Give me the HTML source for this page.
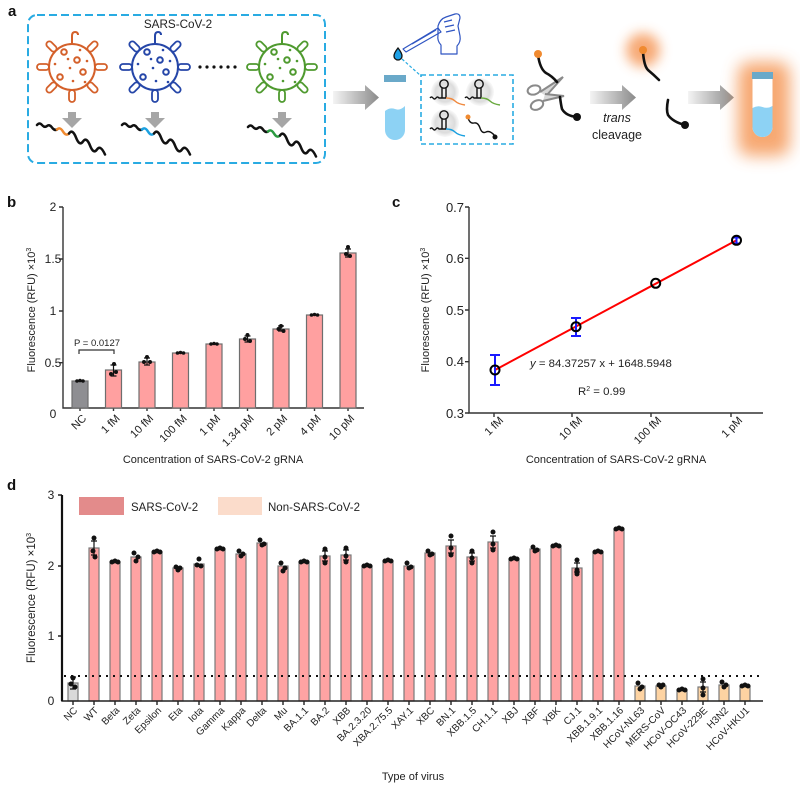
<!DOCTYPE html>
<html>
<head>
<meta charset="utf-8">
<style>
body{margin:0;background:#fff;}
svg{display:block;}
text{font-family:"Liberation Sans",Arial,sans-serif;fill:#222;}
</style>
</head>
<body>
<svg width="800" height="792" viewBox="0 0 800 792" xmlns="http://www.w3.org/2000/svg">
<defs>
  <linearGradient id="ag" x1="0" y1="0" x2="1" y2="0">
    <stop offset="0" stop-color="#f4f4f4"/>
    <stop offset="1" stop-color="#8a8a8a"/>
  </linearGradient>
  <radialGradient id="cg" cx="0.5" cy="0.5" r="0.5">
    <stop offset="0" stop-color="#f2f2f2"/>
    <stop offset="0.7" stop-color="#dcdcdc"/>
    <stop offset="1" stop-color="#e9e9e9" stop-opacity="0.3"/>
  </radialGradient>
  <filter id="blur8" x="-50%" y="-50%" width="200%" height="200%"><feGaussianBlur stdDeviation="8"/></filter>
  <filter id="blur6" x="-80%" y="-80%" width="260%" height="260%"><feGaussianBlur stdDeviation="6"/></filter>
  <g id="vir" fill="none" stroke="currentColor" stroke-width="2">
    <circle r="23"/>
    <g stroke-width="1.8">
      <rect x="-3" y="23" width="6" height="12" rx="3"/>
      <rect x="-3" y="23" width="6" height="12" rx="3" transform="rotate(45)"/>
      <rect x="-3" y="23" width="6" height="12" rx="3" transform="rotate(90)"/>
      <rect x="-3" y="23" width="6" height="12" rx="3" transform="rotate(135)"/>
      <rect x="-3" y="23" width="6" height="12" rx="3" transform="rotate(225)"/>
      <rect x="-3" y="23" width="6" height="12" rx="3" transform="rotate(270)"/>
      <rect x="-3" y="23" width="6" height="12" rx="3" transform="rotate(315)"/>
    </g>
    <path d="M0,-23 V-31 q0,-4 3,-4 q3,0 3,3"/>
    <circle cx="-8" cy="-15" r="2.8"/>
    <circle cx="5" cy="-7" r="2.8"/>
    <circle cx="11" cy="5" r="2.8"/>
    <circle cx="-12" cy="10" r="2.8"/>
    <g fill="currentColor" stroke="none">
      <circle cx="8" cy="-17" r="1.3"/>
      <circle cx="-4" cy="-8" r="1.3"/>
      <circle cx="-17" cy="-3" r="1.3"/>
      <circle cx="-2" cy="1" r="1.3"/>
      <circle cx="1" cy="14" r="1.3"/>
      <circle cx="15" cy="-6" r="1.3"/>
      <circle cx="13" cy="15" r="1.3"/>
    </g>
  </g>
</defs>

<!-- ================= PANEL A ================= -->
<text x="8" y="16" font-size="15" font-weight="bold" style="fill:#111">a</text>
<rect x="28" y="15" width="297" height="148" rx="9" fill="none" stroke="#29abe2" stroke-width="2" stroke-dasharray="8 4"/>
<text x="178" y="28" font-size="11.7" text-anchor="middle">SARS-CoV-2</text>

<use href="#vir" x="72" y="67" style="color:#d4602a"/>
<use href="#vir" x="155" y="67" style="color:#2546a8"/>
<use href="#vir" x="282" y="67" style="color:#4f9a2f"/>

<g fill="#111">
  <circle cx="200" cy="67" r="1.6"/><circle cx="207" cy="67" r="1.6"/><circle cx="214" cy="67" r="1.6"/>
  <circle cx="221" cy="67" r="1.6"/><circle cx="228" cy="67" r="1.6"/><circle cx="235" cy="67" r="1.6"/>
</g>

<g fill="#a6a6a6">
  <polygon points="68,112 76,112 76,118 82,118 72,128 62,118 68,118"/>
  <polygon points="151,112 159,112 159,118 165,118 155,128 145,118 151,118"/>
  <polygon points="278,112 286,112 286,118 292,118 282,128 272,118 278,118"/>
</g>

<g fill="none" stroke-width="2.5" stroke-linecap="round">
  <g>
    <path d="M37,125 q2.5,-3 5,0 t5,1 t5,1.5 t5,2" stroke="#111"/>
    <path d="M57,129.5 q3,-3 6,2 t6,2" stroke="#f08a30"/>
    <path d="M69,133.5 q3.5,-5 7,4 t7,4 t7,4 t7,4 t8,5" stroke="#111"/>
  </g>
  <g transform="translate(85,0)">
    <path d="M37,125 q2.5,-3 5,0 t5,1 t5,1.5 t5,2" stroke="#111"/>
    <path d="M57,129.5 q3,-3 6,2 t6,2" stroke="#1aa0e0"/>
    <path d="M69,133.5 q3.5,-5 7,4 t7,4 t7,4 t7,4 t8,5" stroke="#111"/>
  </g>
  <g transform="translate(211,2)">
    <path d="M37,125 q2.5,-3 5,0 t5,1 t5,1.5 t5,2" stroke="#111"/>
    <path d="M57,129.5 q3,-3 6,2 t6,2" stroke="#2a9a40"/>
    <path d="M69,133.5 q3.5,-5 7,4 t7,4 t7,4 t7,4 t8,5" stroke="#111"/>
  </g>
</g>

<!-- arrows -->
<polygon points="333,91 365,91 365,85 379,97.5 365,110 365,104 333,104" fill="url(#ag)"/>
<polygon points="590,91 622,91 622,85 636,97.5 622,110 622,104 590,104" fill="url(#ag)"/>
<polygon points="688,91 720,91 720,85 734,97.5 720,110 720,104 688,104" fill="url(#ag)"/>

<!-- tube 1 -->
<rect x="384" y="75" width="22" height="7" fill="#6aa9c9"/>
<path d="M385,111 q5,-4 10,-2 t10,-3 V130 a10,10 0 0 1 -20,0 Z" fill="#8dd2f4"/>

<!-- pipette and hand -->
<g fill="none" stroke="#2f55c2" stroke-width="1.2" stroke-linejoin="round">
  <path d="M403,49 L438,28 L441,32 L406,52 Z"/>
  <path d="M412,44 L436,30"/>
  <path d="M438,26 q2,-7 8,-9 l9,-3 q5,-1 5,4 l-2,8 l2,10 q1,6 -3,10 l0,8 l-16,0 l0,-9 q-4,-4 -3,-10 z"/>
  <path d="M444,22 l8,-2 M445,27 l9,-2 M446,32 l9,-2"/>
</g>
<path d="M398,48 q-4,5 -4,8 a4,4 0 0 0 8,0 q0,-3 -4,-8 z" fill="#1ea0e6" stroke="#111" stroke-width="1.3"/>
<path d="M402,59 L421,76" stroke="#29abe2" stroke-width="1.2" stroke-dasharray="3 2"/>

<!-- dashed box 2 -->
<rect x="421" y="75" width="92" height="69" fill="none" stroke="#29abe2" stroke-width="1.6" stroke-dasharray="5 3"/>
<circle cx="445" cy="92" r="14" fill="url(#cg)"/>
<circle cx="480" cy="92" r="14" fill="url(#cg)"/>
<circle cx="445" cy="123" r="14" fill="url(#cg)"/>
<g fill="none" stroke-width="1.4">
  <g>
    <circle cx="444" cy="84" r="4.2" stroke="#111"/>
    <path d="M442,88 V98 M446,88 V98" stroke="#111"/>
    <path d="M430,98 q1.5,-2 3,0 t3,0 t3,0 H446" stroke="#111"/>
    <path d="M446,98 q6,0 9,3 t10,4" stroke="#f08a40"/>
  </g>
  <g transform="translate(35,0)">
    <circle cx="444" cy="84" r="4.2" stroke="#111"/>
    <path d="M442,88 V98 M446,88 V98" stroke="#111"/>
    <path d="M430,98 q1.5,-2 3,0 t3,0 t3,0 H446" stroke="#111"/>
    <path d="M446,98 q6,0 9,3 t10,4" stroke="#6aaa40"/>
  </g>
  <g transform="translate(0,31)">
    <circle cx="444" cy="84" r="4.2" stroke="#111"/>
    <path d="M442,88 V98 M446,88 V98" stroke="#111"/>
    <path d="M430,98 q1.5,-2 3,0 t3,0 t3,0 H446" stroke="#111"/>
    <path d="M446,98 q6,0 9,3 t10,4" stroke="#1aa0e0"/>
  </g>
  <path d="M468,118 q2,6 6,5 t6,5 t6,4 t9,4" stroke="#111"/>
</g>
<circle cx="468" cy="117" r="2.5" fill="#f08a30"/>
<circle cx="495" cy="137" r="2.5" fill="#111"/>

<!-- scissors -->
<g fill="none" stroke="#8a8a8a" stroke-width="2">
  <ellipse cx="534" cy="90" rx="6.5" ry="4.5" transform="rotate(-15 534 90)"/>
  <ellipse cx="537" cy="105" rx="6.5" ry="4.5" transform="rotate(-25 537 105)"/>
  <path d="M540,92 L563,77 L546,96" fill="#d8d8d8"/>
  <path d="M543,101 L564,96 L545,94" fill="#d8d8d8"/>
</g>

<!-- reporter -->
<g fill="none" stroke="#111" stroke-width="2.6" stroke-linecap="round">
  <path d="M538,55 q2,14 8,18 q6,3 11,9"/>
  <path d="M560,97 q1,8 2,12 q4,7 15,8"/>
</g>
<circle cx="538" cy="54" r="4" fill="#f08a30"/>
<circle cx="577" cy="117" r="4" fill="#111"/>

<text x="617" y="122" font-size="12.5" text-anchor="middle" font-style="italic">trans</text>
<text x="617" y="139" font-size="12.5" text-anchor="middle">cleavage</text>

<!-- cleaved -->
<circle cx="643" cy="50" r="17" fill="#f6a066" filter="url(#blur6)" opacity="0.9"/>
<g fill="none" stroke="#111" stroke-width="2.6" stroke-linecap="round">
  <path d="M643,52 q1,14 5,18 q6,5 11,10"/>
  <path d="M668,100 q-2,10 0,15 q5,7 17,10"/>
</g>
<circle cx="643" cy="50" r="4" fill="#f08a30"/>
<circle cx="685" cy="125" r="4" fill="#111"/>

<!-- glowing tube -->
<rect x="738" y="62" width="52" height="94" rx="12" fill="#f59a5a" filter="url(#blur8)" opacity="0.85"/>
<rect x="752" y="72" width="21" height="7" fill="#6aa9c9"/>
<path d="M752.5,79 V127 a10,10 0 0 0 20,0 V79 Z" fill="#fff"/>
<path d="M752.5,108 q5,-3 10,-1 t10,-1 V127 a10,10 0 0 1 -20,0 Z" fill="#8dd2f4"/>

<!-- ================= PANEL B ================= -->
<text x="7" y="207" font-size="15" font-weight="bold" style="fill:#111">b</text>
<g stroke="#333" stroke-width="1.4" fill="none">
  <path d="M63,207 V408 H364"/>
  <path d="M59,207 H63 M59,259 H63 M59,311 H63 M59,362.7 H63"/>
  <path d="M80,408 v3 M113.5,408 v3 M147,408 v3 M180.5,408 v3 M214,408 v3 M247.5,408 v3 M281,408 v3 M314.5,408 v3 M348,408 v3"/>
</g>
<g font-size="12" text-anchor="middle">
  <text x="53" y="211">2</text>
  <text x="53" y="263">1.5</text>
  <text x="53" y="315">1</text>
  <text x="53" y="367">0.5</text>
  <text x="53" y="418">0</text>
</g>
<g stroke="#6e6e6e" stroke-width="1.2">
  <rect x="72" y="381" width="16" height="27" fill="#8e8e92"/>
  <rect x="105.5" y="370" width="16" height="38" fill="#ffa0a0"/>
  <rect x="139" y="362" width="16" height="46" fill="#ffa0a0"/>
  <rect x="172.5" y="353" width="16" height="55" fill="#ffa0a0"/>
  <rect x="206" y="344" width="16" height="64" fill="#ffa0a0"/>
  <rect x="239.5" y="339" width="16" height="69" fill="#ffa0a0"/>
  <rect x="273" y="329" width="16" height="79" fill="#ffa0a0"/>
  <rect x="306.5" y="315" width="16" height="93" fill="#ffa0a0"/>
  <rect x="340" y="253" width="16" height="155" fill="#ffa0a0"/>
</g>
<g stroke="#111" stroke-width="1.2" fill="none">
  <path d="M113.5,365 V376 M110.5,365 h6 M110.5,376 h6"/>
  <path d="M147,358 V365 M144,358 h6 M144,365 h6"/>
  <path d="M247.5,336 V342 M244.5,336 h6 M244.5,342 h6"/>
  <path d="M281,326 V331 M278,326 h6 M278,331 h6"/>
  <path d="M348,249 V257 M345,249 h6 M345,257 h6"/>
</g>
<g fill="#111">
  <circle cx="77" cy="381" r="1.8"/><circle cx="80" cy="380.5" r="1.8"/><circle cx="83" cy="381" r="1.8"/>
  <circle cx="114" cy="364" r="2"/><circle cx="111" cy="374" r="2"/><circle cx="116" cy="372" r="2"/>
  <circle cx="147" cy="357" r="2"/><circle cx="144" cy="362" r="2"/><circle cx="150" cy="362" r="2"/>
  <circle cx="177.5" cy="353" r="1.8"/><circle cx="180.5" cy="352.5" r="1.8"/><circle cx="183.5" cy="353" r="1.8"/>
  <circle cx="211" cy="344" r="1.8"/><circle cx="214" cy="343.5" r="1.8"/><circle cx="217" cy="344" r="1.8"/>
  <circle cx="247.5" cy="335" r="2"/><circle cx="245" cy="339" r="2"/><circle cx="250" cy="341" r="2"/>
  <circle cx="281" cy="326" r="2"/><circle cx="278.5" cy="329" r="2"/><circle cx="283.5" cy="331" r="2"/>
  <circle cx="311.5" cy="315" r="1.8"/><circle cx="314.5" cy="314.5" r="1.8"/><circle cx="317.5" cy="315" r="1.8"/>
  <circle cx="348" cy="247" r="2"/><circle cx="346" cy="254" r="2"/><circle cx="350" cy="256" r="2"/>
</g>
<path d="M79,354 V350 H114 V354" fill="none" stroke="#333" stroke-width="1.2"/>
<text x="97" y="346" font-size="9.5" text-anchor="middle">P = 0.0127</text>
<g font-size="11" text-anchor="end">
  <text transform="translate(87,419) rotate(-45)">NC</text>
  <text transform="translate(120.5,419) rotate(-45)">1 fM</text>
  <text transform="translate(154,419) rotate(-45)">10 fM</text>
  <text transform="translate(187.5,419) rotate(-45)">100 fM</text>
  <text transform="translate(221,419) rotate(-45)">1 pM</text>
  <text transform="translate(254.5,419) rotate(-45)">1.34 pM</text>
  <text transform="translate(288,419) rotate(-45)">2 pM</text>
  <text transform="translate(321.5,419) rotate(-45)">4 pM</text>
  <text transform="translate(355,419) rotate(-45)">10 pM</text>
</g>
<text transform="translate(35,310) rotate(-90)" font-size="11" text-anchor="middle">Fluorescence (RFU) ×10<tspan font-size="7" dy="-4">3</tspan></text>
<text x="213" y="463" font-size="11" text-anchor="middle">Concentration of SARS-CoV-2 gRNA</text>

<!-- ================= PANEL C ================= -->
<text x="392" y="207" font-size="15" font-weight="bold" style="fill:#111">c</text>
<g stroke="#333" stroke-width="1.4" fill="none">
  <path d="M469,207 V413 H763"/>
  <path d="M465,207 H469 M465,258.3 H469 M465,310 H469 M465,361.7 H469 M465,413 H469"/>
  <path d="M494,413 v4 M572,413 v4 M651,413 v4 M731,413 v4"/>
</g>
<g font-size="13" text-anchor="middle">
  <text x="455" y="212">0.7</text>
  <text x="455" y="263">0.6</text>
  <text x="455" y="315">0.5</text>
  <text x="455" y="366">0.4</text>
  <text x="455" y="418">0.3</text>
</g>
<line x1="495" y1="370" x2="736.5" y2="240.3" stroke="#ff0000" stroke-width="2"/>
<g stroke="#1a1aff" stroke-width="2" fill="none">
  <path d="M495,355 V385 M490,355 h10 M490,385 h10"/>
  <path d="M576,318 V336 M571,318 h10 M571,336 h10"/>
  <path d="M736.5,237.5 V243.5 M732.5,237.5 h8 M732.5,243.5 h8"/>
</g>
<g stroke="#000" stroke-width="2" fill="none">
  <circle cx="495" cy="370" r="4.5"/>
  <circle cx="576" cy="326.7" r="4.5"/>
  <circle cx="655.7" cy="283.3" r="4.5"/>
  <circle cx="736.5" cy="240.3" r="4.5"/>
</g>
<text x="530" y="367" font-size="11.4"><tspan font-style="italic">y</tspan> = 84.37257 x + 1648.5948</text>
<text x="578" y="395" font-size="11.4">R<tspan font-size="7" dy="-4">2</tspan><tspan dy="4"> = 0.99</tspan></text>
<g font-size="11" text-anchor="end">
  <text transform="translate(504,421) rotate(-45)">1 fM</text>
  <text transform="translate(583,421) rotate(-45)">10 fM</text>
  <text transform="translate(662,421) rotate(-45)">100 fM</text>
  <text transform="translate(743,421) rotate(-45)">1 pM</text>
</g>
<text transform="translate(429,310) rotate(-90)" font-size="11" text-anchor="middle">Fluorescence (RFU) ×10<tspan font-size="7" dy="-4">3</tspan></text>
<text x="616" y="463" font-size="11" text-anchor="middle">Concentration of SARS-CoV-2 gRNA</text>

<!-- ================= PANEL D ================= -->
<text x="7" y="490" font-size="15" font-weight="bold" style="fill:#111">d</text>
<rect x="79" y="497" width="45" height="18" fill="#e38b8b"/>
<text x="131" y="511" font-size="11.5">SARS-CoV-2</text>
<rect x="218" y="497" width="44" height="18" fill="#fbdccb"/>
<text x="268" y="511" font-size="11.5">Non-SARS-CoV-2</text>

<g font-size="12" text-anchor="middle">
  <text x="51" y="499">3</text>
  <text x="51" y="570">2</text>
  <text x="51" y="640">1</text>
  <text x="51" y="705">0</text>
</g>

<g stroke="#7a7a7a" stroke-width="1.2">
  <rect x="68" y="683" width="10" height="18" fill="#d9d9d9"/>
  <g fill="#ffa3a3">
    <rect x="89" y="548" width="10" height="153"/>
    <rect x="110" y="562" width="10" height="139"/>
    <rect x="131" y="557" width="10" height="144"/>
    <rect x="152" y="552" width="10" height="149"/>
    <rect x="173" y="568" width="10" height="133"/>
    <rect x="194" y="564" width="10" height="137"/>
    <rect x="215" y="549" width="10" height="152"/>
    <rect x="236" y="554" width="10" height="147"/>
    <rect x="257" y="543" width="10" height="158"/>
    <rect x="278" y="566" width="10" height="135"/>
    <rect x="299" y="562" width="10" height="139"/>
    <rect x="320" y="556" width="10" height="145"/>
    <rect x="341" y="555" width="10" height="146"/>
    <rect x="362" y="566" width="10" height="135"/>
    <rect x="383" y="561" width="10" height="140"/>
    <rect x="404" y="566" width="10" height="135"/>
    <rect x="425" y="553" width="10" height="148"/>
    <rect x="446" y="546" width="10" height="155"/>
    <rect x="467" y="557" width="10" height="144"/>
    <rect x="488" y="542" width="10" height="159"/>
    <rect x="509" y="559" width="10" height="142"/>
    <rect x="530" y="549" width="10" height="152"/>
    <rect x="551" y="546" width="10" height="155"/>
    <rect x="572" y="568" width="10" height="133"/>
    <rect x="593" y="552" width="10" height="149"/>
    <rect x="614" y="529" width="10" height="172"/>
  </g>
  <g fill="#fdd3a2">
    <rect x="635" y="686" width="10" height="15"/>
    <rect x="656" y="686" width="10" height="15"/>
    <rect x="677" y="690" width="10" height="11"/>
    <rect x="698" y="687" width="10" height="14"/>
    <rect x="719" y="685" width="10" height="16"/>
    <rect x="740" y="686" width="10" height="15"/>
  </g>
</g>

<line x1="64" y1="676" x2="759" y2="676" stroke="#111" stroke-width="2" stroke-dasharray="2 5"/>

<g stroke="#222" stroke-width="1.4" fill="none">
  <path d="M62,495 V701 H763"/>
  <path d="M58,495 H62 M58,566 H62 M58,636 H62"/>
  <path d="M73,701v4M94,701v4M115,701v4M136,701v4M157,701v4M178,701v4M199,701v4M220,701v4M241,701v4M262,701v4M283,701v4M304,701v4M325,701v4M346,701v4M367,701v4M388,701v4M409,701v4M430,701v4M451,701v4M472,701v4M493,701v4M514,701v4M535,701v4M556,701v4M577,701v4M598,701v4M619,701v4M640,701v4M661,701v4M682,701v4M703,701v4M724,701v4M745,701v4"/>
</g>
<path d="M62,495 V701" stroke="#111" stroke-width="2.2"/>

<g stroke="#111" stroke-width="1.2" fill="none">
  <path d="M73,677 V689 M70,677 h6 M70,689 h6"/>
  <path d="M94,541 V555 M91,541 h6 M91,555 h6"/>
  <path d="M325,551 V561 M322,551 h6 M322,561 h6"/>
  <path d="M346,550 V560 M343,550 h6 M343,560 h6"/>
  <path d="M451,540 V553 M448,540 h6 M448,553 h6"/>
  <path d="M472,553 V561 M469,553 h6 M469,561 h6"/>
  <path d="M493,536 V548 M490,536 h6 M490,548 h6"/>
  <path d="M577,563 V572 M574,563 h6 M574,572 h6"/>
  <path d="M703,682 V692 M700,682 h6 M700,692 h6"/>
</g>
<g fill="#111">
  <circle cx="73" cy="678" r="2.5"/><circle cx="71" cy="684" r="2.5"/><circle cx="75" cy="687" r="2.5"/>
  <circle cx="94" cy="538" r="2.5"/><circle cx="93" cy="551" r="2.5"/><circle cx="95" cy="557" r="2.5"/>
  <circle cx="112" cy="562" r="2.5"/><circle cx="115" cy="561" r="2.5"/><circle cx="118" cy="562" r="2.5"/>
  <circle cx="134" cy="553" r="2.5"/><circle cx="138" cy="557" r="2.5"/><circle cx="136" cy="561" r="2.5"/>
  <circle cx="154" cy="552" r="2.5"/><circle cx="157" cy="551" r="2.5"/><circle cx="160" cy="552" r="2.5"/>
  <circle cx="176" cy="567" r="2.5"/><circle cx="180" cy="568" r="2.5"/><circle cx="178" cy="570" r="2.5"/>
  <circle cx="199" cy="559" r="2.5"/><circle cx="197" cy="565" r="2.5"/><circle cx="201" cy="566" r="2.5"/>
  <circle cx="217" cy="549" r="2.5"/><circle cx="220" cy="548" r="2.5"/><circle cx="223" cy="549" r="2.5"/>
  <circle cx="239" cy="551" r="2.5"/><circle cx="243" cy="554" r="2.5"/><circle cx="241" cy="556" r="2.5"/>
  <circle cx="260" cy="540" r="2.5"/><circle cx="264" cy="544" r="2.5"/><circle cx="262" cy="545" r="2.5"/>
  <circle cx="281" cy="563" r="2.5"/><circle cx="285" cy="568" r="2.5"/><circle cx="283" cy="571" r="2.5"/>
  <circle cx="301" cy="562" r="2.5"/><circle cx="304" cy="561" r="2.5"/><circle cx="307" cy="562" r="2.5"/>
  <circle cx="325" cy="549" r="2.5"/><circle cx="325" cy="557" r="2.5"/><circle cx="325" cy="563" r="2.5"/>
  <circle cx="346" cy="548" r="2.5"/><circle cx="346" cy="556" r="2.5"/><circle cx="346" cy="562" r="2.5"/>
  <circle cx="364" cy="566" r="2.5"/><circle cx="367" cy="565" r="2.5"/><circle cx="370" cy="566" r="2.5"/>
  <circle cx="385" cy="561" r="2.5"/><circle cx="388" cy="560" r="2.5"/><circle cx="391" cy="561" r="2.5"/>
  <circle cx="407" cy="563" r="2.5"/><circle cx="411" cy="567" r="2.5"/><circle cx="409" cy="568" r="2.5"/>
  <circle cx="428" cy="551" r="2.5"/><circle cx="432" cy="554" r="2.5"/><circle cx="430" cy="555" r="2.5"/>
  <circle cx="451" cy="536" r="2.5"/><circle cx="451" cy="548" r="2.5"/><circle cx="451" cy="555" r="2.5"/>
  <circle cx="472" cy="551" r="2.5"/><circle cx="472" cy="558" r="2.5"/><circle cx="472" cy="563" r="2.5"/>
  <circle cx="493" cy="532" r="2.5"/><circle cx="493" cy="544" r="2.5"/><circle cx="493" cy="550" r="2.5"/>
  <circle cx="511" cy="559" r="2.5"/><circle cx="514" cy="558" r="2.5"/><circle cx="517" cy="559" r="2.5"/>
  <circle cx="533" cy="547" r="2.5"/><circle cx="537" cy="550" r="2.5"/><circle cx="535" cy="551" r="2.5"/>
  <circle cx="553" cy="546" r="2.5"/><circle cx="556" cy="545" r="2.5"/><circle cx="559" cy="546" r="2.5"/>
  <circle cx="577" cy="560" r="2.5"/><circle cx="577" cy="570" r="2.5"/><circle cx="577" cy="574" r="2.5"/>
  <circle cx="595" cy="552" r="2.5"/><circle cx="598" cy="551" r="2.5"/><circle cx="601" cy="552" r="2.5"/>
  <circle cx="616" cy="529" r="2.5"/><circle cx="619" cy="528" r="2.5"/><circle cx="622" cy="529" r="2.5"/>
  <circle cx="638" cy="683" r="2.5"/><circle cx="642" cy="687" r="2.5"/><circle cx="640" cy="689" r="2.5"/>
  <circle cx="659" cy="685" r="2.5"/><circle cx="663" cy="685" r="2.5"/><circle cx="661" cy="687" r="2.5"/>
  <circle cx="679" cy="690" r="2.5"/><circle cx="682" cy="689" r="2.5"/><circle cx="685" cy="690" r="2.5"/>
  <circle cx="703" cy="679" r="2.5"/><circle cx="703" cy="688" r="2.5"/><circle cx="703" cy="695" r="2.5"/>
  <circle cx="722" cy="682" r="2.5"/><circle cx="726" cy="685" r="2.5"/><circle cx="724" cy="687" r="2.5"/>
  <circle cx="742" cy="686" r="2.5"/><circle cx="745" cy="685" r="2.5"/><circle cx="748" cy="686" r="2.5"/>
</g>

<g font-size="10" text-anchor="end">
  <text transform="translate(78,711) rotate(-45)">NC</text>
  <text transform="translate(99,711) rotate(-45)">WT</text>
  <text transform="translate(120,711) rotate(-45)">Beta</text>
  <text transform="translate(141,711) rotate(-45)">Zeta</text>
  <text transform="translate(162,711) rotate(-45)">Epsilon</text>
  <text transform="translate(183,711) rotate(-45)">Eta</text>
  <text transform="translate(204,711) rotate(-45)">Iota</text>
  <text transform="translate(225,711) rotate(-45)">Gamma</text>
  <text transform="translate(246,711) rotate(-45)">Kappa</text>
  <text transform="translate(267,711) rotate(-45)">Delta</text>
  <text transform="translate(288,711) rotate(-45)">Mu</text>
  <text transform="translate(309,711) rotate(-45)">BA.1.1</text>
  <text transform="translate(330,711) rotate(-45)">BA.2</text>
  <text transform="translate(351,711) rotate(-45)">XBB</text>
  <text transform="translate(372,711) rotate(-45)">BA.2.3.20</text>
  <text transform="translate(393,711) rotate(-45)">XBA.2.75.5</text>
  <text transform="translate(414,711) rotate(-45)">XAY.1</text>
  <text transform="translate(435,711) rotate(-45)">XBC</text>
  <text transform="translate(456,711) rotate(-45)">BN.1</text>
  <text transform="translate(477,711) rotate(-45)">XBB.1.5</text>
  <text transform="translate(498,711) rotate(-45)">CH.1.1</text>
  <text transform="translate(519,711) rotate(-45)">XBJ</text>
  <text transform="translate(540,711) rotate(-45)">XBF</text>
  <text transform="translate(561,711) rotate(-45)">XBK</text>
  <text transform="translate(582,711) rotate(-45)">CJ.1</text>
  <text transform="translate(603,711) rotate(-45)">XBB.1.9.1</text>
  <text transform="translate(624,711) rotate(-45)">XBB.1.16</text>
  <text transform="translate(645,711) rotate(-45)">HCoV-NL63</text>
  <text transform="translate(666,711) rotate(-45)">MERS-CoV</text>
  <text transform="translate(687,711) rotate(-45)">HCoV-OC43</text>
  <text transform="translate(708,711) rotate(-45)">HCoV-229E</text>
  <text transform="translate(729,711) rotate(-45)">H3N2</text>
  <text transform="translate(750,711) rotate(-45)">HCoV-HKU1</text>
</g>
<text transform="translate(35,598) rotate(-90)" font-size="11.5" text-anchor="middle">Fluorescence (RFU) ×10<tspan font-size="7" dy="-4">3</tspan></text>
<text x="413" y="780" font-size="11" text-anchor="middle">Type of virus</text>
</svg>
</body>
</html>
